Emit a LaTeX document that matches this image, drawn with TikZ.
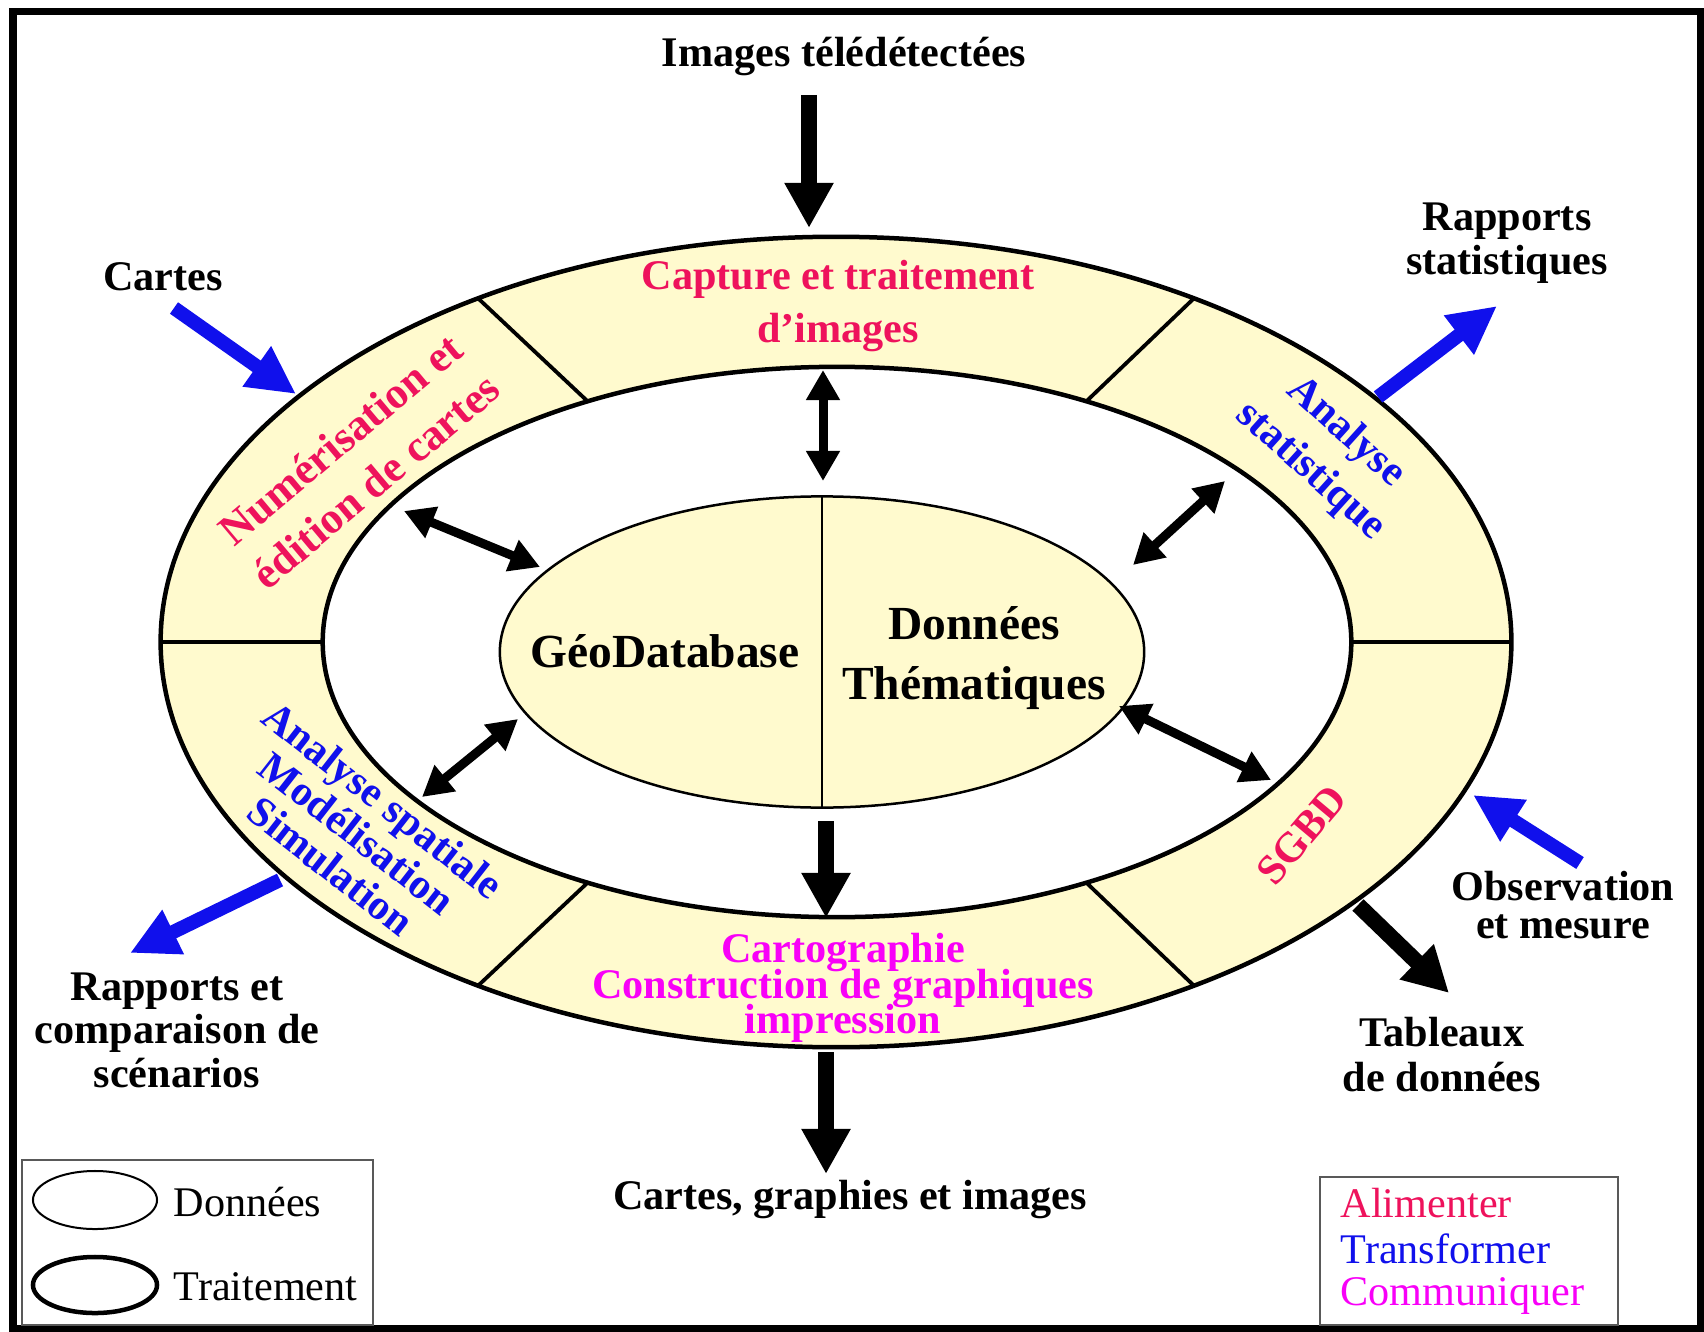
\documentclass[tikz,border=0pt]{standalone}
\usepackage{fontspec}
\setmainfont{Liberation Serif}
\usepackage{xcolor}
\usepackage{tikz}
\usetikzlibrary{arrows.meta,shapes.geometric,calc}

\definecolor{ringfill}{RGB}{255,250,206}
\definecolor{alimcol}{RGB}{238,18,92}
\definecolor{transcol}{RGB}{16,16,236}
\definecolor{commcol}{RGB}{248,0,248}
\newcommand{\tightlines}{\setlength{\lineskiplimit}{-100pt}}

\begin{document}
\begin{tikzpicture}[x=0.01cm,y=-0.01cm,
  lbl/.style={font=\bfseries\fontsize{12}{14}\selectfont, align=center, inner sep=0pt},
  ringlbl/.style={font=\bfseries\fontsize{12}{15}\selectfont, align=center, inner sep=0pt},
  leglbl/.style={font=\fontsize{12}{14}\selectfont, anchor=west, inner sep=0pt},
  blkarrow/.style={line width=0.16cm, -{Triangle[length=0.45cm,width=0.46cm]}},
  bluarrow/.style={transcol, line width=0.14cm, -{Triangle[length=0.48cm,width=0.46cm]}},
  dblarrow/.style={line width=0.09cm, {Triangle[length=0.3cm,width=0.32cm]}-{Triangle[length=0.3cm,width=0.32cm]}},
  ringline/.style={line width=0.045cm}]

\useasboundingbox (0,0) rectangle (1704,1331);
\draw[line width=0.07cm] (13,12) rectangle (1700,1328);

\coordinate (oc) at (836,642);
\coordinate (ic) at (837,642);
\fill[ringfill,even odd rule] (oc) ellipse [x radius=6.75cm,y radius=4.05cm] (ic) ellipse [x radius=5.14cm,y radius=2.75cm];
\draw[ringline] (oc) ellipse [x radius=6.75cm,y radius=4.05cm];
\draw[ringline] (ic) ellipse [x radius=5.14cm,y radius=2.75cm];
\foreach \a/\b in {0/0,58/61,122/119,180/180,238/241,302/299}
  \draw[line width=0.038cm] ($(oc)+(\a:6.75cm and 4.05cm)$) -- ($(ic)+(\b:5.14cm and 2.75cm)$);

\node[ellipse, draw, fill=ringfill, line width=0.025cm, minimum width=6.44cm, minimum height=3.11cm, inner sep=0pt] (geodb) at (822,652) {};
\draw[line width=0.025cm] (geodb.north) -- (geodb.south);
\node[lbl, font=\bfseries\fontsize{13.5}{17}\selectfont] (geo) at (665,651) {GéoDatabase};
\node[lbl, font=\bfseries\fontsize{13.5}{17}\selectfont] (them) at (974,658) {Données\\Thématiques};

\node[ringlbl, text=alimcol] (capture) at (838,306) {Capture et traitement\\d'images};
\node[ringlbl, text=alimcol, rotate=40, font=\bfseries\fontsize{12.5}{15.5}\selectfont] (numer) at (358,460) {Numérisation et\\édition de cartes};
\node[ringlbl, text=transcol, rotate=-42] (anastat) at (1328,452) {Analyse\\statistique};
\node[ringlbl, text=alimcol, rotate=50] (sgbd) at (1302,835) {SGBD};
\node[ringlbl, text=transcol, rotate=-38, font=\bfseries\fontsize{12}{12}\selectfont\tightlines] (anaspat) at (357,833) {Analyse spatiale\\Modélisation\\Simulation};
\node[ringlbl, text=commcol, font=\bfseries\fontsize{12}{10}\selectfont\tightlines] (carto) at (843,988) {Cartographie\\Construction de graphiques\\impression};

\node[lbl] (imgtele) at (844,57) {Images télédétectées};
\node[lbl] (cartes) at (163,277) {Cartes};
\node[lbl, font=\bfseries\fontsize{12}{12.5}\selectfont] (rapstat) at (1507,243) {Rapports\\statistiques};
\node[lbl, font=\bfseries\fontsize{12}{10.8}\selectfont\tightlines] (observ) at (1563,905) {Observation\\et mesure};
\node[lbl, font=\bfseries\fontsize{12}{12.8}\selectfont] (tableaux) at (1442,1055) {Tableaux\\de données};
\node[lbl, font=\bfseries\fontsize{12}{12.4}\selectfont] (rapcomp) at (177,1030) {Rapports et\\comparaison de\\scénarios};
\node[lbl] (cartgraph) at (850,1200) {Cartes, graphies et images};

\coordinate (imgS) at (809,95);   \coordinate (imgE) at (809,228);
\coordinate (capIn) at (823,370); \coordinate (geoTop) at (823,481);
\coordinate (ulA) at (404,511);   \coordinate (ulB) at (540,567);
\coordinate (urA) at (1225,481);  \coordinate (urB) at (1133,565);
\coordinate (llA) at (422,797);   \coordinate (llB) at (518,719);
\coordinate (lrA) at (1119,706);  \coordinate (lrB) at (1271,780);
\coordinate (geoBot) at (826,821); \coordinate (cartoIn) at (826,918);
\coordinate (cartoOut) at (826,1052); \coordinate (cgTop) at (826,1174);
\coordinate (cartesS) at (174,308); \coordinate (cartesE) at (296,394);
\coordinate (statS) at (1378,397);  \coordinate (statE) at (1497,306);
\coordinate (spatS) at (280,880);   \coordinate (spatE) at (130,953);
\coordinate (obsS) at (1580,863);   \coordinate (obsE) at (1473,795);
\coordinate (tabS) at (1358,905);   \coordinate (tabE) at (1449,993);

\draw[blkarrow] (imgS) -- (imgE);
\draw[blkarrow] (geoBot) -- (cartoIn);
\draw[blkarrow] (cartoOut) -- (cgTop);
\draw[blkarrow] (tabS) -- (tabE);
\draw[dblarrow] (capIn) -- (geoTop);
\draw[dblarrow] (ulA) -- (ulB);
\draw[dblarrow] (urA) -- (urB);
\draw[dblarrow] (llA) -- (llB);
\draw[dblarrow] (lrA) -- (lrB);
\draw[bluarrow] (cartesS) -- (cartesE);
\draw[bluarrow] (statS) -- (statE);
\draw[bluarrow] (spatS) -- (spatE);
\draw[bluarrow] (obsS) -- (obsE);

\draw[draw=black!65, line width=0.025cm] (22,1160) rectangle (373,1325);
\draw[line width=0.02cm] (95,1200) ellipse [x radius=0.62cm,y radius=0.29cm];
\draw[line width=0.045cm] (95,1285) ellipse [x radius=0.62cm,y radius=0.28cm];
\node[leglbl] (legdon) at (173,1202) {Données};
\node[leglbl] (legtrt) at (173,1287) {Traitement};

\draw[draw=black!65, line width=0.025cm] (1320,1177) rectangle (1618,1325);
\node[leglbl, text=alimcol] (legalim) at (1340,1203) {Alimenter};
\node[leglbl, text=transcol] (legtrans) at (1340,1249) {Transformer};
\node[leglbl, text=commcol] (legcomm) at (1340,1296) {Communiquer};

\end{tikzpicture}
\end{document}
